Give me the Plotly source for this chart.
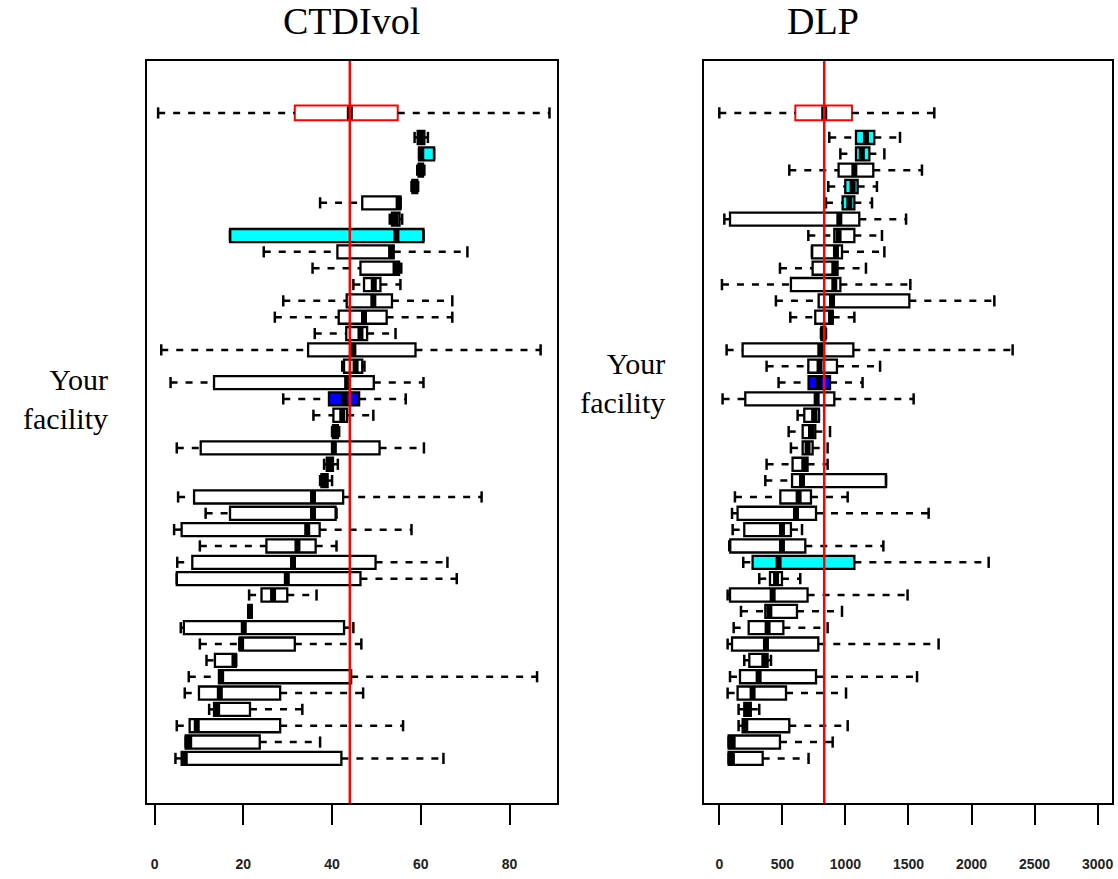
import plotly.graph_objects as go

# ---------------- data (rows listed top to bottom) ----------------
ctdi_lo = [58.6, 59.6, 59.2, 57.9, 37.3, 53.0, 17.0, 24.6, 35.6, 44.8, 29.0, 27.1, 36.1, 1.5, 42.3, 3.6, 29.0, 35.8, 40.0, 5.0,
           38.2, 37.3, 5.3, 11.5, 4.4, 10.2, 5.1, 5.0, 21.3, 21.1, 5.9, 10.2, 11.7, 7.7, 6.8, 12.3, 5.0, 7.0, 4.7]
ctdi_q1 = [59.3, 59.6, 59.5, 58.1, 46.8, 53.5, 17.0, 41.2, 46.4, 47.2, 43.3, 41.5, 43.2, 34.6, 42.7, 13.4, 39.3, 40.3, 40.2, 10.4,
           38.8, 37.6, 8.9, 17.0, 6.1, 25.2, 8.5, 5.0, 24.1, 21.1, 6.6, 19.2, 13.6, 14.5, 10.0, 13.4, 7.9, 7.0, 6.1]
ctdi_med = [60.0, 60.1, 60.0, 58.6, 55.0, 54.3, 54.5, 53.3, 54.3, 49.4, 49.3, 47.2, 46.4, 44.8, 45.3, 43.4, 42.7, 42.3, 40.8, 40.4,
            39.5, 38.3, 35.7, 35.7, 34.4, 32.2, 31.2, 29.8, 26.7, 21.5, 20.1, 19.5, 18.0, 15.0, 14.7, 14.1, 9.5, 7.8, 6.8]
ctdi_q3 = [60.8, 63.0, 60.5, 59.2, 55.4, 55.2, 60.6, 53.9, 55.1, 50.9, 53.5, 52.3, 47.9, 58.8, 46.8, 49.4, 46.1, 43.4, 41.3, 50.7,
           40.2, 39.0, 42.5, 40.8, 37.2, 36.3, 49.8, 46.4, 29.9, 21.9, 42.7, 31.6, 18.3, 44.3, 28.3, 21.5, 28.3, 23.7, 42.1]
ctdi_hi = [61.6, 63.0, 60.8, 59.4, 55.4, 55.8, 60.6, 70.5, 55.6, 55.4, 67.1, 67.1, 54.3, 87.0, 47.3, 60.6, 56.6, 49.3, 41.6, 60.7,
           41.3, 40.0, 73.7, 41.0, 57.9, 41.0, 66.0, 68.1, 36.5, 21.9, 44.8, 46.6, 18.3, 86.2, 47.0, 33.3, 56.0, 37.3, 65.1]
ctdi_all = [0.8, 31.6, 44.0, 54.8, 89.0]          # lo, q1, median, q3, hi
ctdi_cyan = [2, 7]
ctdi_you = 17

dlp_lo = [872, 960, 555, 864, 846, 40, 706, 735, 481, 21, 449, 563, 806, 58, 375, 470, 26, 621, 550, 568,
          375, 365, 124, 101, 106, 79, 190, 317, 66, 172, 114, 66, 198, 85, 66, 153, 153, 74, 74]
dlp_q1 = [1084, 1084, 946, 999, 978, 85, 912, 735, 740, 568, 788, 761, 810, 185, 706, 708, 206, 674, 661, 661,
          581, 577, 484, 145, 198, 87, 264, 402, 85, 365, 233, 101, 238, 164, 145, 198, 185, 74, 74]
dlp_med = [1163, 1130, 1071, 1057, 1031, 952, 946, 925, 912, 912, 894, 886, 826, 801, 795, 790, 772, 752, 727, 700,
           674, 656, 629, 608, 497, 497, 470, 450, 423, 397, 383, 370, 357, 312, 264, 225, 206, 106, 100]
dlp_q3 = [1229, 1190, 1221, 1097, 1071, 1110, 1071, 973, 938, 960, 1507, 899, 840, 1063, 933, 878, 912, 790, 761, 740,
          700, 1322, 727, 767, 568, 682, 1071, 497, 700, 616, 508, 785, 383, 767, 529, 250, 555, 481, 344]
dlp_hi = [1433, 1309, 1607, 1250, 1211, 1481, 1290, 1309, 1163, 1515, 2181, 1071, 846, 2326, 1275, 1136, 1541, 790, 878, 859,
          859, 1322, 1018, 1660, 656, 1301, 2136, 642, 1493, 973, 859, 1739, 410, 1568, 1005, 317, 1018, 899, 708]
dlp_all = [0, 603, 832, 1052, 1705]
dlp_cyan = [1, 2, 4, 5, 27]
dlp_you = 16

ctdi_ticks = [0, 20, 40, 60, 80]
dlp_ticks = [0, 500, 1000, 1500, 2000, 2500, 3000]
titles = ["CTDIvol", "DLP"]
you_label = "Your<br>facility"

# ---------------- figure ----------------
N = len(ctdi_med)
pos = [N - i for i in range(N)]        # top row highest
all_pos = N + 1.5
BW = 0.8
RBW = 0.9

fig = go.Figure()


def add_panel(lo, q1, med, q3, hi, allv, cyan, you, xa, ya):
    rows = list(range(N))
    # dashed whiskers
    wx, wy = [], []
    for i in rows:
        if lo[i] < q1[i]:
            wx += [lo[i], q1[i], None]; wy += [pos[i], pos[i], None]
        if hi[i] > q3[i]:
            wx += [q3[i], hi[i], None]; wy += [pos[i], pos[i], None]
    wx += [allv[0], allv[1], None, allv[3], allv[4], None]
    wy += [all_pos, all_pos, None, all_pos, all_pos, None]
    fig.add_trace(go.Scatter(x=wx, y=wy, mode="lines", xaxis=xa, yaxis=ya, hoverinfo="skip",
                             line=dict(color="black", width=2.5, dash="7px,8px")))
    # staples
    cx = lo + hi + [allv[0], allv[4]]
    cy = pos + pos + [all_pos, all_pos]
    fig.add_trace(go.Scatter(x=cx, y=cy, mode="markers", xaxis=xa, yaxis=ya, hoverinfo="skip",
                             marker=dict(symbol="line-ns-open", size=8, color="black",
                                         line=dict(color="black", width=2.5))))
    # boxes
    groups = [
        ([i for i in rows if (i + 1) not in cyan and (i + 1) != you], "white"),
        ([i for i in rows if (i + 1) in cyan], "#00FFFF"),
        ([you - 1], "#0000FF"),
    ]
    for idx, col in groups:
        fig.add_trace(go.Box(
            y=[pos[i] for i in idx], q1=[q1[i] for i in idx], median=[med[i] for i in idx],
            q3=[q3[i] for i in idx], lowerfence=[q1[i] for i in idx], upperfence=[q3[i] for i in idx],
            orientation="h", width=BW, fillcolor=col, whiskerwidth=0, boxpoints=False,
            line=dict(color="black", width=2.3), xaxis=xa, yaxis=ya, hoverinfo="skip"))
    fig.add_trace(go.Box(
        y=[all_pos], q1=[allv[1]], median=[allv[2]], q3=[allv[3]],
        lowerfence=[allv[1]], upperfence=[allv[3]], orientation="h", width=RBW,
        fillcolor="white", whiskerwidth=0, boxpoints=False,
        line=dict(color="#FF0000", width=2), xaxis=xa, yaxis=ya, hoverinfo="skip"))
    # thick medians
    mx, my = [], []
    for i in rows:
        mx += [med[i], med[i], None]; my += [pos[i] - BW / 2, pos[i] + BW / 2, None]
    mx += [allv[2], allv[2], None]; my += [all_pos - RBW / 2 + 0.05, all_pos + RBW / 2 - 0.05, None]
    fig.add_trace(go.Scatter(x=mx, y=my, mode="lines", xaxis=xa, yaxis=ya, hoverinfo="skip",
                             line=dict(color="black", width=6)))
    # reference line at overall median
    fig.add_shape(type="line", xref=xa, yref=ya + " domain", x0=allv[2], x1=allv[2], y0=0, y1=1,
                  line=dict(color="#FF0000", width=2.5), layer="above")


add_panel(ctdi_lo, ctdi_q1, ctdi_med, ctdi_q3, ctdi_hi, ctdi_all, ctdi_cyan, ctdi_you, "x", "y")
add_panel(dlp_lo, dlp_q1, dlp_med, dlp_q3, dlp_hi, dlp_all, dlp_cyan, dlp_you, "x2", "y2")

tickfont = dict(family="Liberation Sans Narrow, Liberation Sans, Arial", size=14, color="#222", weight="bold")
axis_common = dict(showline=True, linewidth=2, linecolor="black", mirror=True, showgrid=False,
                   zeroline=False, automargin=False)
xcommon = dict(axis_common, ticks="outside", ticklen=20, tickwidth=2, tickcolor="black",
               tickfont=tickfont, ticklabelstandoff=27)
ycommon = dict(axis_common, ticks="", range=[-1.73, N + 4.68],
               tickfont=dict(family="Liberation Serif", size=30, color="black"), ticklabelstandoff=31)

fig.update_layout(
    width=1118, height=879,
    margin=dict(l=147, r=6, t=61, b=76, autoexpand=False),
    plot_bgcolor="white", paper_bgcolor="white", showlegend=False,
    xaxis=dict(xcommon, domain=[0, 0.4249], range=[-1.71, 90.7], tickvals=ctdi_ticks),
    xaxis2=dict(xcommon, domain=[0.5775, 1], range=[-119, 3114], tickvals=dlp_ticks),
    yaxis=dict(ycommon, anchor="x", tickvals=[pos[ctdi_you - 1]], ticktext=[you_label]),
    yaxis2=dict(ycommon, anchor="x2", tickvals=[pos[dlp_you - 1]], ticktext=[you_label]),
    annotations=[
        dict(text=titles[0], x=0.2124, y=1.0535, xref="paper", yref="paper", showarrow=False,
             xanchor="center", yanchor="middle", font=dict(family="Liberation Serif", size=38, color="black")),
        dict(text=titles[1], x=0.7005, y=1.0535, xref="paper", yref="paper", showarrow=False,
             xanchor="center", yanchor="middle", font=dict(family="Liberation Serif", size=38, color="black")),
    ],
)

# remove the default page margin / scrollbars so the figure fills the window exactly
fig.write_html("out.html", config={"displayModeBar": False}, post_script=(
    "document.body.style.margin='0';"
    "document.body.style.overflow='hidden';"
    "document.documentElement.style.overflow='hidden';"))
